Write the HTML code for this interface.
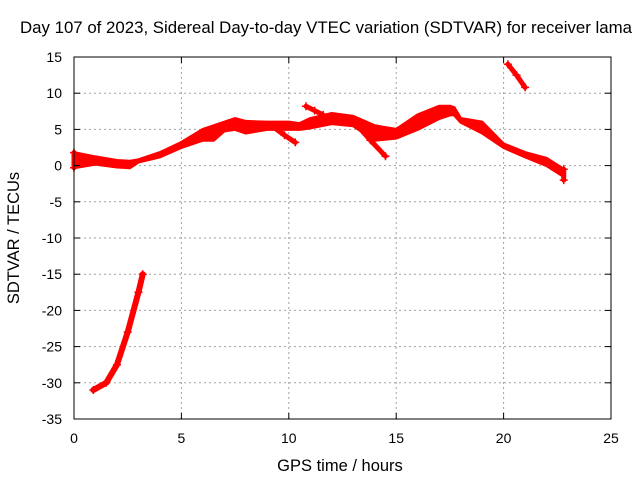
<!DOCTYPE html>
<html><head><meta charset="utf-8"><style>
body{margin:0;background:#fff}
svg{display:block;font-family:"Liberation Sans",sans-serif;font-size:14px}
.big{font-size:16.5px}
</style></head><body>
<svg id="chart" width="640" height="480">
<text class="big" x="326" y="33" text-anchor="middle" textLength="612" lengthAdjust="spacingAndGlyphs">Day 107 of 2023, Sidereal Day-to-day VTEC variation (SDTVAR) for receiver lama</text>
<text class="big" x="340" y="471" text-anchor="middle">GPS time / hours</text>
<text class="big" transform="translate(19,238) rotate(-90)" text-anchor="middle">SDTVAR / TECUs</text>
<g id="grid"></g><g id="data"></g><g id="axes"></g>
</svg>
<script>
const xTicks=[0,5,10,15,20,25];
const yTicks=[15,10,5,0,-5,-10,-15,-20,-25,-30,-35];
const bandTime=[0,1,2,2.6,3,4,5,6,6.5,7,7.5,8,9,10,10.5,11,12,13,14,15,16,17,17.5,17.7,18,19,19.5,20,21,22,22.8];
const bandUpper=[1.8,1.2,0.7,0.6,0.8,1.8,3.2,5,5.5,6,6.5,6.1,6,6,5.8,6.5,7.2,6.8,5.5,5,7,8.2,8.2,8,6.5,6,4.5,3,1.8,1,-0.5];
const bandLower=[-0.3,0.2,-0.2,-0.3,0.5,1.2,2.5,3.5,3.5,4.8,5,4.5,5,5,5,5.2,5.8,5.5,3.5,3.8,5,6.5,7,7,6,4.5,3.5,2.5,1.2,0,-1.5];
const branchA=[[9.2,5.5],[9.8,4.2],[10.3,3.2]];
const branchB=[[13.2,5.5],[13.8,3.5],[14.5,1.3]];
const branchC=[[10.8,8.2],[11.2,7.6],[11.6,7]];
const segHigh=[[20.2,14],[20.6,12.5],[21,10.8]];
const segLow=[[0.9,-31],[1.5,-30],[2,-27.5],[2.5,-23],[3,-17.5],[3.2,-15]];
const X=t=>74+(t-0)*(611-74)/25;
const Y=v=>57+(15-v)*(419-57)/50;
const NS="http://www.w3.org/2000/svg";
function mk(tag,attrs,parent){const e=document.createElementNS(NS,tag);for(const k in attrs)e.setAttribute(k,attrs[k]);parent.appendChild(e);return e;}
const grid=document.getElementById('grid'),axes=document.getElementById('axes'),data=document.getElementById('data');
xTicks.forEach(t=>{
 if(t>0&&t<25){const l=mk('line',{x1:X(t),x2:X(t),y1:57,y2:419,stroke:'#a0a0a0','stroke-dasharray':'2,3'},grid);
 
 }
 const tx=mk('text',{x:X(t),y:443,'text-anchor':'middle'},axes);tx.textContent=t;
 
 
 mk('line',{x1:X(t),x2:X(t),y1:419,y2:413,stroke:'#000'},axes);
 mk('line',{x1:X(t),x2:X(t),y1:57,y2:63,stroke:'#000'},axes);
});
yTicks.forEach(v=>{
 if(v<15&&v>-35){const l=mk('line',{x1:74,x2:611,y1:Y(v),y2:Y(v),stroke:'#a0a0a0','stroke-dasharray':'2,3'},grid);
 
 }
 const tx=mk('text',{x:62,y:Y(v)+5,'text-anchor':'end'},axes);tx.textContent=v;
 
 
 mk('line',{x1:74,x2:80,y1:Y(v),y2:Y(v),stroke:'#000'},axes);
 mk('line',{x1:611,x2:605,y1:Y(v),y2:Y(v),stroke:'#000'},axes);
});
const fr=mk('rect',{x:74,y:57,width:537,height:362,fill:'none',stroke:'#000'},axes);


let pts=bandTime.map((t,i)=>X(t)+','+Y(bandUpper[i]));
pts=pts.concat(bandTime.map((t,i)=>X(t)+','+Y(bandLower[i])).reverse());
const band=mk('polygon',{points:pts.join(' '),fill:'#f00',stroke:'#f00','stroke-width':3,'stroke-linejoin':'round'},data);


function track(arr,name,w){
 const p=mk('polyline',{points:arr.map(a=>X(a[0])+','+Y(a[1])).join(' '),fill:'none',stroke:'#f00','stroke-width':w||5,'stroke-linecap':'round','stroke-linejoin':'round'},data);
 
 
 arr.forEach(a=>{const x=X(a[0]),y=Y(a[1]);
  const m=mk('path',{d:`M${x-4},${y}h8M${x},${y-4}v8`,stroke:'#f00','stroke-width':1.5},data);
  
  });
}
track(branchA,'branch-10h');track(branchB,'branch-14h');track(branchC,'branch-11h');
track(segHigh,'segment-20h');track(segLow,'segment-early',6);
track([[22.8,-0.5],[22.8,-2]],'end-points');
track([[0,1.8],[0,-0.3]],'start-points');
</script>
</body></html>
